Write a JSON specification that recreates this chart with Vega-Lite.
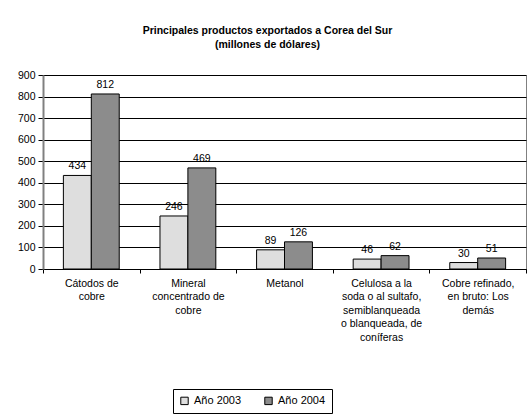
{
  "$schema": "https://vega.github.io/schema/vega-lite/v6.json",
  "width": 483,
  "height": 194,
  "autosize": "none",
  "padding": {"left": 43, "top": 75, "right": 6, "bottom": 145},
  "background": "white",
  "title": {
    "text": ["Principales productos exportados a Corea del Sur", "(millones de dólares)"],
    "font": "Liberation Sans",
    "fontSize": 10.5,
    "fontWeight": "bold",
    "color": "black",
    "anchor": "middle",
    "dx": -17,
    "offset": 20,
    "lineHeight": 14
  },
  "data": {
    "values": [
      {"producto": "Cátodos de\ncobre", "anio": "Año 2003", "valor": 434},
      {"producto": "Cátodos de\ncobre", "anio": "Año 2004", "valor": 812},
      {"producto": "Mineral\nconcentrado de\ncobre", "anio": "Año 2003", "valor": 246},
      {"producto": "Mineral\nconcentrado de\ncobre", "anio": "Año 2004", "valor": 469},
      {"producto": "Metanol", "anio": "Año 2003", "valor": 89},
      {"producto": "Metanol", "anio": "Año 2004", "valor": 126},
      {"producto": "Celulosa a la\nsoda o al sultafo,\nsemiblanqueada\no blanqueada, de\nconíferas", "anio": "Año 2003", "valor": 46},
      {"producto": "Celulosa a la\nsoda o al sultafo,\nsemiblanqueada\no blanqueada, de\nconíferas", "anio": "Año 2004", "valor": 62},
      {"producto": "Cobre refinado,\nen bruto:  Los\ndemás", "anio": "Año 2003", "valor": 30},
      {"producto": "Cobre refinado,\nen bruto:  Los\ndemás", "anio": "Año 2004", "valor": 51}
    ]
  },
  "encoding": {
    "x": {
      "field": "producto",
      "type": "nominal",
      "sort": null,
      "scale": {"paddingInner": 0, "paddingOuter": 0},
      "axis": {
        "title": null,
        "labelAngle": 0,
        "labelAlign": "center",
        "labelBaseline": "top",
        "labelExpr": "split(datum.label, '\\n')",
        "labelLineHeight": 13.5,
        "labelPadding": 5,
        "tickBand": "extent",
        "tickSize": 4,
        "tickColor": "black",
        "domainColor": "black",
        "grid": false,
        "labelLimit": 200
      }
    },
    "xOffset": {
      "field": "anio",
      "type": "nominal",
      "scale": {"paddingInner": 0, "paddingOuter": 0.73}
    },
    "y": {
      "field": "valor",
      "type": "quantitative",
      "scale": {"domain": [0, 900], "nice": false},
      "axis": {
        "title": null,
        "values": [0, 100, 200, 300, 400, 500, 600, 700, 800, 900],
        "tickSize": 5,
        "tickColor": "black",
        "domainColor": "#808080",
        "domainWidth": 2,
        "grid": true,
        "gridColor": "black",
        "gridOpacity": 1,
        "labelPadding": 3
      }
    }
  },
  "layer": [
    {
      "mark": {"type": "bar", "stroke": "black", "strokeWidth": 1},
      "encoding": {
        "fill": {
          "field": "anio",
          "type": "nominal",
          "scale": {"range": ["#dedede", "#8c8c8c"]},
          "legend": {
            "orient": "none",
            "legendX": 130,
            "legendY": 314,
            "direction": "horizontal",
            "title": null,
            "strokeColor": "black",
            "fillColor": "white",
            "padding": 6,
            "symbolType": "square",
            "symbolSize": 55,
            "symbolStrokeColor": "black",
            "symbolStrokeWidth": 1,
            "labelFontSize": 11,
            "labelFont": "Liberation Sans",
            "labelColor": "black",
            "labelOffset": 4,
            "columnPadding": 20,
            "labelExpr": "datum.label == 'Año 2004' ? datum.label + '\u00a0\u00a0\u00a0\u00a0\u00a0\u00a0\u00a0\u00a0\u00a0\u00a0\u00a0\u00a0\u00a0\u00a0\u00a0\u00a0\u00a0\u00a0\u00a0\u00a0' : '\u00a0' + datum.label"
          }
        }
      }
    },
    {
      "mark": {"type": "text", "baseline": "bottom", "dy": -4, "fontSize": 10.5, "font": "Liberation Sans", "color": "black"},
      "encoding": {"text": {"field": "valor", "type": "quantitative"}}
    }
  ],
  "config": {
    "view": {"stroke": "#808080"},
    "axis": {"labelFont": "Liberation Sans", "labelFontSize": 10.5, "labelColor": "black"}
  }
}
